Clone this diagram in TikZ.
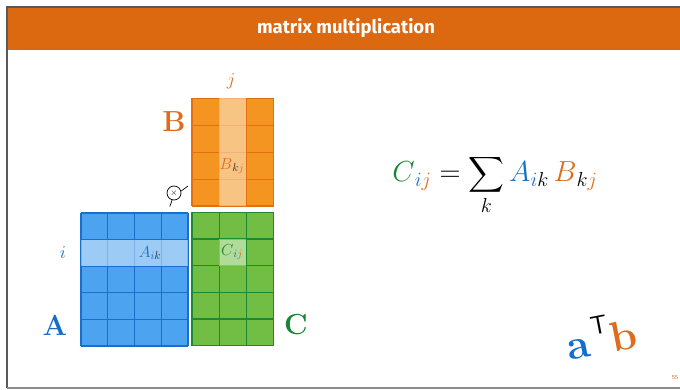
\RequirePackage{fix-cm}
\documentclass[tikz,border=0pt]{standalone}
\usepackage{amsmath}
\usepackage{exscale}
\usepackage{fontspec}
\newfontfamily\titlefont{Fira Sans}
\definecolor{hdr}{RGB}{220,104,16}
\definecolor{afill}{RGB}{76,163,240}
\definecolor{aline}{RGB}{24,112,204}
\definecolor{bfill}{RGB}{243,149,32}
\definecolor{bline}{RGB}{226,112,18}
\definecolor{cfill}{RGB}{114,190,68}
\definecolor{cline}{RGB}{28,138,50}
\definecolor{ablue}{RGB}{22,110,200}
\definecolor{borange}{RGB}{222,108,28}
\definecolor{cgreen}{RGB}{24,134,52}
\definecolor{kdark}{RGB}{40,40,40}
\tikzset{
  gridA/.style={draw=aline,line width=1.2pt},
  gridB/.style={draw=bline,line width=1.2pt},
  gridC/.style={draw=cline,line width=1.2pt},
  hilite/.style={fill=white,fill opacity=0.45},
  biglet/.style={font=\fontsize{29}{30}\selectfont\bfseries},
  celllab/.style={font=\fontsize{16}{17}\selectfont},
}
\begin{document}
\begin{tikzpicture}[x=1pt,y=-1pt]
\useasboundingbox (0,0) rectangle (680,390);
\fill[white] (0,0) rectangle (680,390);
% header
\fill[hdr] (8,8) rectangle (680,50);
\draw[line width=1.5pt,color=black!65] (7,388) -- (7,7) -- (680,7);
\draw[line width=1.5pt,color=black!45] (7,388) -- (680,388);
\node[font=\titlefont\bfseries\fontsize{18.5}{20}\selectfont,text=white] (title) at (346,28) {matrix multiplication};
% matrix A
\fill[afill] (81,213) rectangle (188,346);
\foreach \k in {0,...,4} \draw[gridA] ({81+\k*26.75},213) -- ({81+\k*26.75},346);
\foreach \r in {0,...,5} \draw[gridA] (81,{213+\r*26.6}) -- (188,{213+\r*26.6});
\fill[hilite] (81,239.6) rectangle (188,266.2);
% matrix B
\fill[bfill] (192,98.5) rectangle (273.5,206);
\foreach \k in {0,...,3} \draw[gridB] ({192+\k*27.17},98.5) -- ({192+\k*27.17},206);
\foreach \r in {0,...,4} \draw[gridB] (192,{98.5+\r*26.875}) -- (273.5,{98.5+\r*26.875});
\fill[hilite] (219.2,98.5) rectangle (246.3,206);
% matrix C
\fill[cfill] (192,212.5) rectangle (273.5,345.5);
\foreach \k in {0,...,3} \draw[gridC] ({192+\k*27.17},212.5) -- ({192+\k*27.17},345.5);
\foreach \r in {0,...,5} \draw[gridC] (192,{212.5+\r*26.6}) -- (273.5,{212.5+\r*26.6});
\fill[hilite] (219.2,239.1) rectangle (246.3,265.7);
% cell labels
\node[celllab] (bkj) at (232,166) {$\textcolor{borange}{B}_{\textcolor{kdark}{k}\textcolor{borange}{j}}$};
\node[celllab] (aik) at (150,253) {$\textcolor{ablue}{A}_{\textcolor{ablue}{i}\textcolor{kdark}{k}}$};
\node[celllab] (cij) at (232,252) {$\textcolor{cgreen}{C}_{\textcolor{ablue}{i}\textcolor{borange}{j}}$};
% index labels
\node[font=\fontsize{18}{19}\selectfont,text=ablue] (ilab) at (63,253) {$i$};
\node[font=\fontsize{18}{19}\selectfont,text=borange] (jlab) at (231,81) {$j$};
% big letters
\node[biglet,text=borange] (Blab) at (174,122) {B};
\node[biglet,text=ablue] (Alab) at (55,325) {A};
\node[biglet,text=cgreen] (Clab) at (296,325) {C};
% times symbol
\node[draw,circle,inner sep=0pt,minimum size=14pt,line width=0.7pt,font=\fontsize{9}{9}\selectfont] (tm) at (174,193) {$\times$};
\coordinate (tmA) at (188,186);
\coordinate (tmB) at (169.8,206.5);
\draw[line width=0.7pt] (tm.15) -- (tmA);
\draw[line width=0.7pt] (tm.255) -- (tmB);
% formula
\node[anchor=base,font=\fontsize{29}{33}\selectfont] (eq) at (495,182)
 {$\displaystyle \textcolor{cgreen}{C}_{\textcolor{ablue}{i}\textcolor{borange}{j}} = \sum_{k} \textcolor{ablue}{A}_{\textcolor{ablue}{i}k}\,\textcolor{borange}{B}_{k\textcolor{borange}{j}}$};
% aTb
\node[rotate=11,inner sep=0pt] (atb) at (601,335)
 {\fontsize{42}{44}\selectfont\bfseries\textcolor{ablue}{a}\kern4pt\raisebox{0.5em}{\fontsize{26}{26}\selectfont\sffamily\mdseries T}\kern1pt\textcolor{borange}{b}};
% page number
\node[font=\sffamily\fontsize{6}{7}\selectfont,text=borange] (pg) at (675,378) {55};
\end{tikzpicture}
\end{document}
